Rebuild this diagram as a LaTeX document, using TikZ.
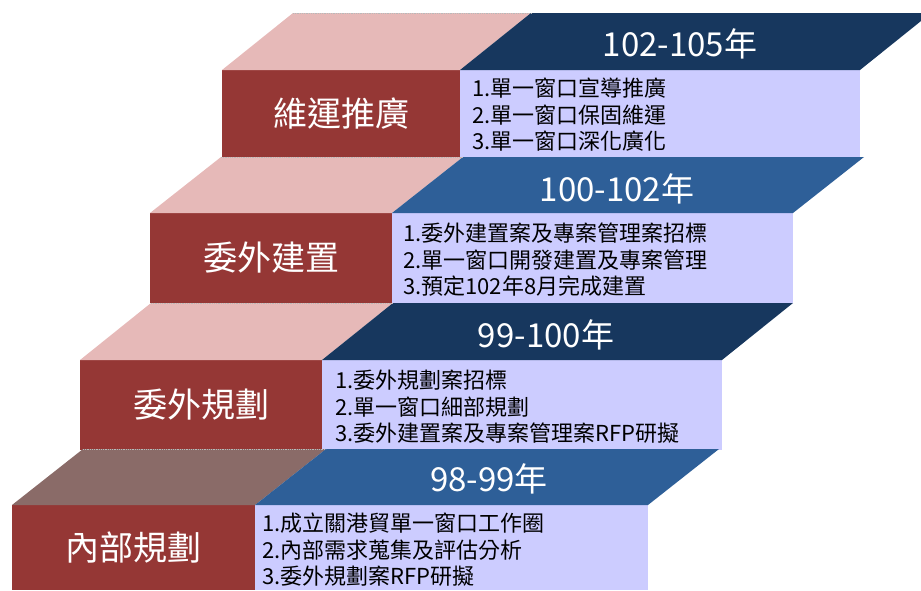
\documentclass[tikz,border=0pt]{standalone}
\usepackage{fontspec}
\setmainfont{Noto Sans CJK TC}
\usetikzlibrary{calc}
\definecolor{redc}{HTML}{953735}
\definecolor{pinkc}{HTML}{E6B9B8}
\definecolor{brownc}{HTML}{8A6B68}
\definecolor{navyc}{HTML}{17375E}
\definecolor{bluec}{HTML}{2E5F98}
\definecolor{lavc}{HTML}{CCCCFF}
\begin{document}
\begin{tikzpicture}[x=1pt,y=-1pt,
  redbox/.style={fill=redc, text=white, inner sep=0pt, outer sep=0pt, anchor=north west,
    font=\fontsize{34}{40}\selectfont},
  lavbox/.style={fill=lavc, inner sep=0pt, outer sep=0pt, anchor=north west},
  listtext/.style={anchor=west, align=left, inner sep=0pt, font=\fontsize{22}{26.5}\selectfont},
  yeartext/.style={text=white, inner sep=0pt, font=\fontsize{33}{36}\selectfont},
  dotline/.style={draw=gray!55, densely dotted, line width=0.8pt}
]
\useasboundingbox (0,0) rectangle (921,590);

% ---------- step 4 ----------
\node[redbox, minimum width=238pt, minimum height=87pt] (r4) at (222,70) {維運推廣};
\node[lavbox, minimum width=400pt, minimum height=87pt] (l4) at (460,70) {};
\fill[pinkc] (r4.north west) -- (r4.north east) -- ++(71,-57) -- ($(r4.north west)+(71,-57)$) -- cycle;
\fill[navyc] (l4.north west) -- (l4.north east) -- ++(71,-57) -- ($(l4.north west)+(71,-57)$) -- cycle;
\draw[dotline] ($(r4.north west)+(71,-57)$) -- ($(r4.north east)+(71,-57)$);
\node[yeartext] (y4) at (680,44) {102-105年};
\node[listtext] (t4) at (472,115) {1.單一窗口宣導推廣\\2.單一窗口保固維運\\3.單一窗口深化廣化};

% ---------- step 3 ----------
\node[redbox, minimum width=242pt, minimum height=90pt] (r3) at (150,213) {委外建置};
\node[lavbox, minimum width=401pt, minimum height=90pt] (l3) at (392,213) {};
\fill[pinkc] (r3.north west) -- (r3.north east) -- ++(71,-56) -- ($(r3.north west)+(71,-56)$) -- cycle;
\fill[bluec] (l3.north west) -- (l3.north east) -- ++(71,-56) -- ($(l3.north west)+(71,-56)$) -- cycle;
\draw[dotline] ($(r3.north west)+(71,-56)$) -- ($(r3.north east)+(71,-56)$);
\node[yeartext] (y3) at (617,189) {100-102年};
\node[listtext] (t3) at (403,260) {1.委外建置案及專案管理案招標\\2.單一窗口開發建置及專案管理\\3.預定102年8月完成建置};

% ---------- step 2 ----------
\node[redbox, minimum width=242pt, minimum height=90pt] (r2) at (80,360) {委外規劃};
\node[lavbox, minimum width=400pt, minimum height=90pt] (l2) at (322,360) {};
\fill[pinkc] (r2.north west) -- (r2.north east) -- ++(71,-57) -- ($(r2.north west)+(71,-57)$) -- cycle;
\fill[navyc] (l2.north west) -- (l2.north east) -- ++(71,-57) -- ($(l2.north west)+(71,-57)$) -- cycle;
\draw[dotline] ($(r2.north west)+(71,-57)$) -- ($(r2.north east)+(71,-57)$);
\node[yeartext] (y2) at (546,335) {99-100年};
\node[listtext] (t2) at (335,407) {1.委外規劃案招標\\2.單一窗口細部規劃\\3.委外建置案及專案管理案RFP研擬};

% ---------- step 1 ----------
\node[redbox, minimum width=243pt, minimum height=85pt] (r1) at (12,505) {內部規劃};
\node[lavbox, minimum width=393pt, minimum height=85pt] (l1) at (255,505) {};
\fill[brownc] (r1.north west) -- (r1.north east) -- ++(71,-56) -- ($(r1.north west)+(71,-56)$) -- cycle;
\fill[bluec] (l1.north west) -- (l1.north east) -- ++(71,-56) -- ($(l1.north west)+(71,-56)$) -- cycle;
\draw[dotline] ($(r1.north west)+(71,-56)$) -- ($(r1.north east)+(71,-56)$);
\node[yeartext] (y1) at (489,479) {98-99年};
\node[listtext] (t1) at (262,550) {1.成立關港貿單一窗口工作圈\\2.內部需求蒐集及評估分析\\3.委外規劃案RFP研擬};
\end{tikzpicture}
\end{document}
